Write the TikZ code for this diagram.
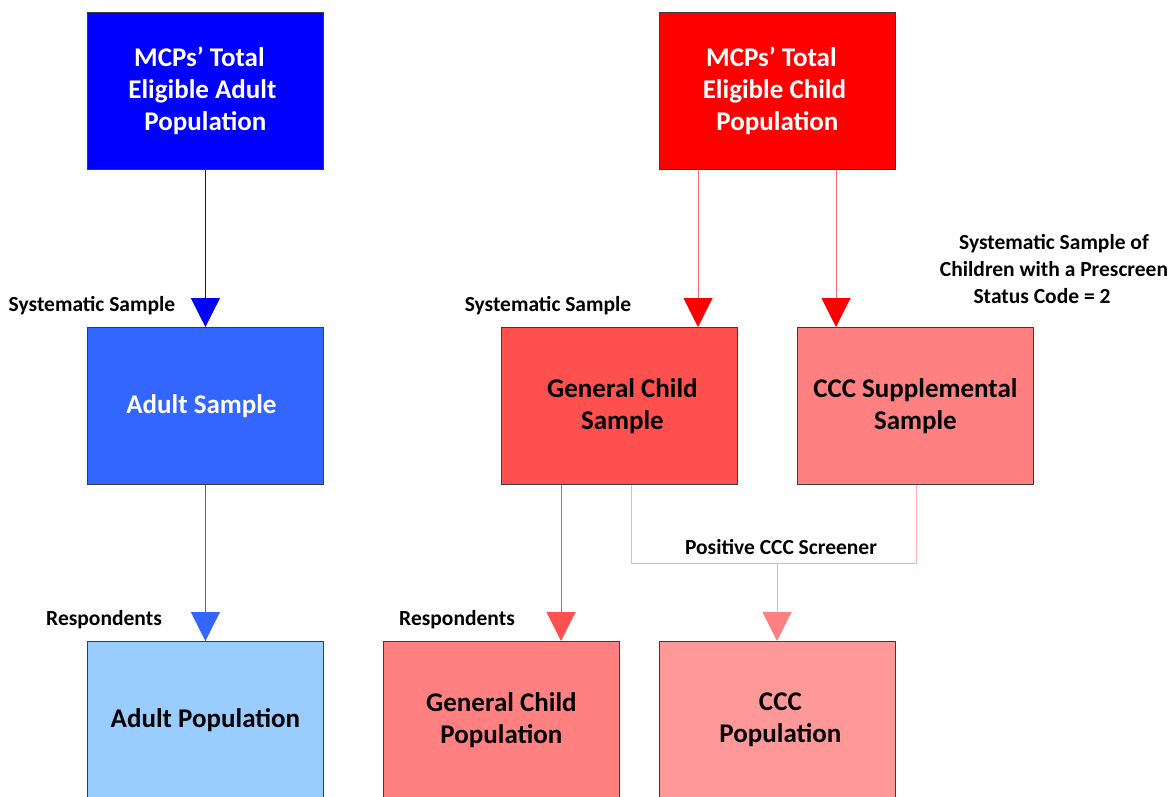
\documentclass[tikz,border=0pt]{standalone}
\usepackage{fontspec}
\setmainfont{Carlito}
\usetikzlibrary{arrows.meta}
\definecolor{cblue}{RGB}{0,0,255}
\definecolor{cblueB}{RGB}{51,102,255}
\definecolor{cblueC}{RGB}{153,204,255}
\definecolor{cred}{RGB}{255,0,0}
\definecolor{credB}{RGB}{255,80,80}
\definecolor{credC}{RGB}{255,128,128}
\definecolor{credD}{RGB}{255,153,153}
\definecolor{credL}{RGB}{255,110,110}
\definecolor{cpinkL}{RGB}{255,175,175}
\definecolor{cborder}{RGB}{60,60,60}
\tikzset{
  box/.style={draw=cborder, line width=0.8pt, minimum width=236pt, minimum height=157pt,
    inner sep=0pt, align=center, font=\bfseries\fontsize{27}{32}\selectfont, anchor=north west},
  lbl/.style={font=\bfseries\fontsize{21.5}{27}\selectfont, inner sep=0pt, align=center},
  conn/.style={line width=1pt},
}
\begin{document}
\begin{tikzpicture}[x=1pt,y=-1pt]
\useasboundingbox (0,0) rectangle (1173,796);
\clip (0,0) rectangle (1173,796);
% boxes
\node[box, fill=cblue, text=white] (adt) at (87,12) {\hspace*{-12pt}MCPs’ Total\\\hspace*{-6pt}Eligible Adult\\Population};
\node[box, fill=cred, text=white] (cht) at (659,12) {\hspace*{-12pt}MCPs’ Total\\\hspace*{-6pt}Eligible Child\\Population};
\node[box, fill=cblueB, text=white] (ads) at (87,327) {\hspace*{-8pt}\raisebox{-6pt}{Adult Sample}};
\node[box, fill=credB, text=black] (gcs) at (501,327) {\hspace*{6pt}General Child\\\hspace*{6pt}Sample};
\node[box, fill=credC, text=black] (ccs) at (797,327) {CCC Supplemental\\Sample};
\node[box, fill=cblueC, text=black] (adp) at (87,641) {\raisebox{-3pt}{Adult Population}};
\node[box, fill=credC, text=black] (gcp) at (383,641) {General Child\\Population};
\node[box, fill=credD, text=black] (ccp) at (659,641) {\hspace*{6pt}CCC\\\hspace*{6pt}Population};
% connectors
\draw[conn, draw=cblue, -{Triangle[length=29pt,width=29pt,color=cblue]}] (adt.south) -- (ads.north);
\draw[conn, draw=cblueB, -{Triangle[length=29pt,width=29pt,color=cblueB]}] (ads.south) -- (adp.north);
\coordinate (c1) at (698,169);
\coordinate (c2) at (836,169);
\draw[conn, draw=credL, -{Triangle[length=29pt,width=29pt,color=cred]}] (cht.south -| c1) -- (gcs.north -| c1);
\draw[conn, draw=credL, -{Triangle[length=29pt,width=29pt,color=cred]}] (cht.south -| c2) -- (ccs.north -| c2);
\coordinate (c3) at (561,484);
\draw[conn, draw=credB, -{Triangle[length=29pt,width=29pt,color=credB]}] (gcs.south -| c3) -- (gcp.north -| c3);
\coordinate (c4) at (631,484);
\coordinate (c5) at (916,484);
\coordinate (jn) at (777,563);
\draw[conn, draw=cpinkL] (gcs.south -| c4) -- (c4 |- jn) -- (c5 |- jn) -- (ccs.south -| c5);
\draw[conn, draw=cpinkL, -{Triangle[length=29pt,width=29pt,color=credC]}] (jn) -- (ccp.north -| jn);
% labels
\node[lbl] (l1) at (92,306) {Systematic Sample};
\node[lbl] (l2) at (548,306) {Systematic Sample};
\node[lbl] (l3) at (104,620) {Respondents};
\node[lbl] (l4) at (457,620) {Respondents};
\node[lbl] (l5) at (781,547) {Positive CCC Screener};
\node[lbl] (l6) at (1054,269) {Systematic Sample of\\Children with a Prescreen\\\hspace*{-24pt}Status Code = 2};
\end{tikzpicture}
\end{document}
